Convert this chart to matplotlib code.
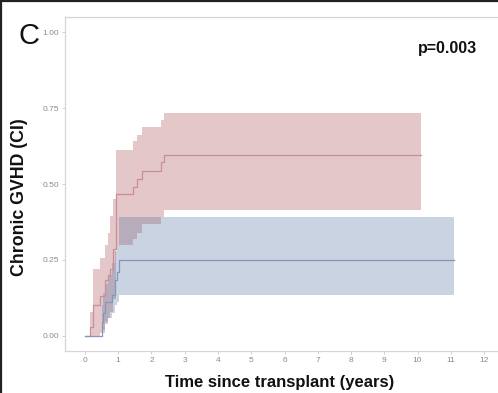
import matplotlib
matplotlib.use("Agg")
import matplotlib.pyplot as plt
from matplotlib.lines import Line2D

plt.rcParams['font.family'] = ['Liberation Sans', 'DejaVu Sans']

# Cumulative incidence of chronic GVHD, group 1 (red)
red_time = [0, 0.15, 0.25, 0.45, 0.6, 0.7, 0.75, 0.85, 0.93, 1.45, 1.55, 1.73, 2.3, 2.38, 10.1]
red_est = [0, 0.03, 0.10, 0.13, 0.185, 0.20, 0.22, 0.285, 0.467, 0.49, 0.517, 0.543, 0.573, 0.594, 0.594]
red_upper = [0, 0.08, 0.22, 0.255, 0.30, 0.34, 0.395, 0.45, 0.613, 0.64, 0.662, 0.688, 0.71, 0.734, 0.734]
red_lower = [0, 0, 0, 0.01, 0.04, 0.06, 0.08, 0.12, 0.30, 0.318, 0.34, 0.367, 0.39, 0.415, 0.415]

# Cumulative incidence of chronic GVHD, group 2 (blue)
blue_time = [0, 0.5, 0.55, 0.6, 0.7, 0.8, 0.9, 0.95, 1.02, 11.1]
blue_est = [0, 0.047, 0.076, 0.11, 0.11, 0.135, 0.185, 0.21, 0.25, 0.25]
blue_upper = [0, 0.10, 0.14, 0.17, 0.20, 0.24, 0.28, 0.30, 0.392, 0.392]
blue_lower = [0, 0.0, 0.02, 0.045, 0.06, 0.076, 0.10, 0.11, 0.133, 0.133]

x_ticks = list(range(0, 13))
y_ticks = [0.0, 0.25, 0.50, 0.75, 1.00]
y_tick_labels = ["0.00", "0.25", "0.50", "0.75", "1.00"]
p_text = "p=0.003"

W, H = 498, 393
fig = plt.figure(figsize=(W / 100, H / 100), dpi=100)
ax = fig.add_axes([65 / W, 1 - 351 / H, (504 - 65) / W, (351 - 17) / H])

red_fill = (0.66, 0.28, 0.31)
blue_fill = (0.32, 0.44, 0.62)
ax.fill_between(red_time, red_lower, red_upper, step='post', color=red_fill,
                alpha=0.3, linewidth=0)
ax.fill_between(blue_time, blue_lower, blue_upper, step='post', color=blue_fill,
                alpha=0.3, linewidth=0)
ax.step(red_time, red_est, where='post', color='#cc8e96', lw=0.9)
ax.step(blue_time, blue_est, where='post', color='#8396be', lw=0.9)

ax.set_xlim(-0.6, 12.6)
ax.set_ylim(-0.05, 1.05)
ax.set_xticks(x_ticks)
ax.set_yticks(y_ticks)
ax.set_yticklabels(y_tick_labels)
ax.tick_params(axis='both', colors='#c8c8c8', labelcolor='#8a8a8a',
               labelsize=6, length=2, width=0.6, pad=2)
for side in ['top', 'left', 'bottom']:
    ax.spines[side].set_color('#d6d6d6')
    ax.spines[side].set_linewidth(0.9)
ax.spines['right'].set_visible(False)

ax.text(0.872, 0.907, p_text, transform=ax.transAxes, fontsize=11.5,
        fontweight='bold', ha='center', va='center', color='#111111')

fig.text(280 / W, 1 - 383 / H, "Time since transplant (years)", fontsize=12,
         fontweight='bold', ha='center', va='center', color='#111111')
fig.text(20 / W, 1 - 197 / H, "Chronic GVHD (CI)", fontsize=12.8,
         fontweight='bold', ha='center', va='center', rotation=90, color='#111111')
fig.text(29 / W, 1 - 36 / H, "C", fontsize=21, ha='center', va='center',
         color='#111111')

# panel frame on top and left edges
fig.add_artist(Line2D([0, 1], [1 - 1 / H, 1 - 1 / H], transform=fig.transFigure,
                      color='#222222', lw=1.6))
fig.add_artist(Line2D([1 / W, 1 / W], [0, 1], transform=fig.transFigure,
                      color='#222222', lw=1.6))

fig.savefig("out.png", dpi=100)
